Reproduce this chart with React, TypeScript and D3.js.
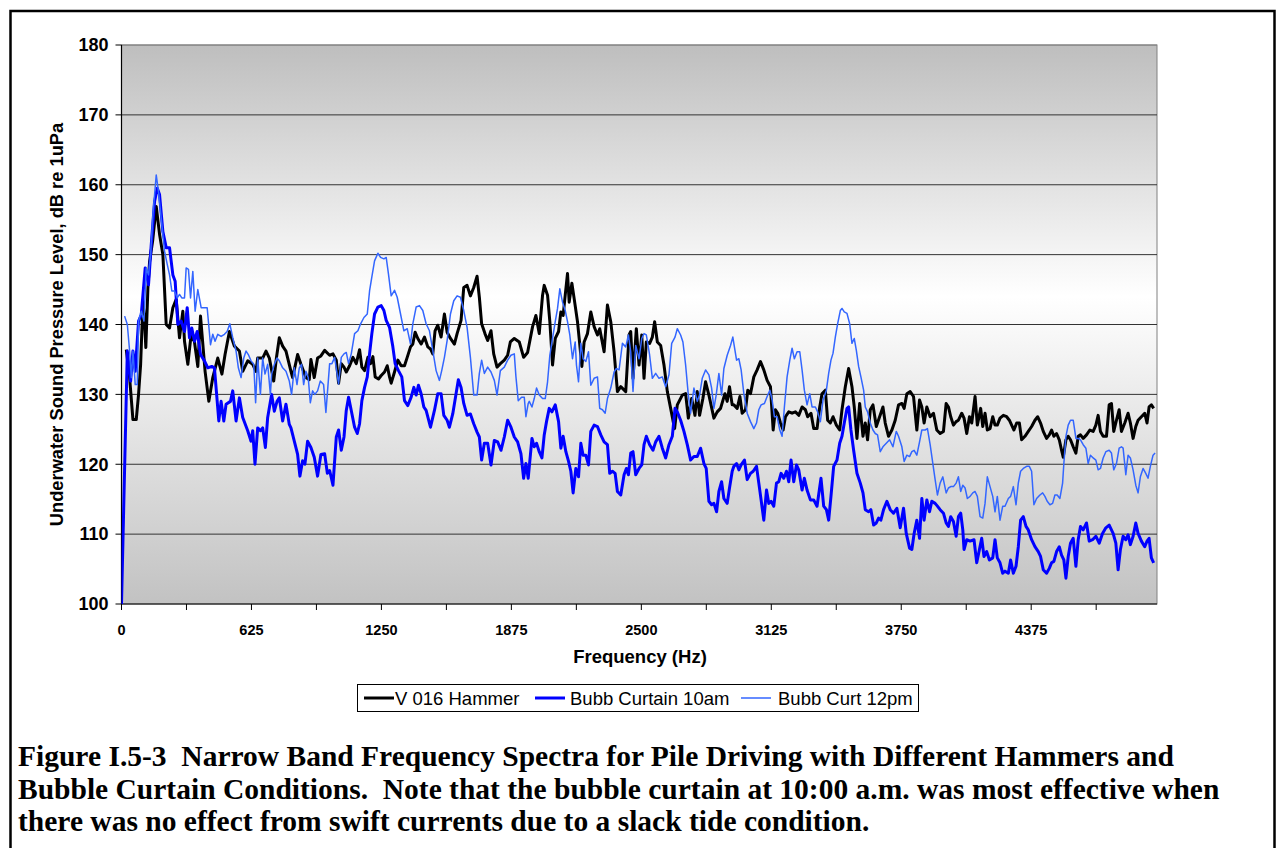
import * as d3 from "d3";

// Narrow band spectra, [frequency Hz, level dB re 1uPa]
const hammerData: [number, number][] = [
  [23,136.4],[39,132.4],[55,126.4],[71,126.4],[82,130],[92,134.3],[103,143.3],[110,141],[117,136.7],[127,145.2],[135,149],[150,152],[167,156.9],[183,152.9],[199,150],[215,140],[231,139.5],[247,142.4],[263,143.6],[279,138.1],[295,141.9],[303,137.6],[319,134.3],[335,138.6],[351,137.5],[367,134],[380,141.2],[402,133.3],[420,129],[439,132.4],[463,135.2],[483,132.9],[498,135.7],[519,139],[543,136.9],[567,136.2],[583,133.3],[607,134.8],[631,134.3],[647,133.3],[655,135.2],[679,135.2],[695,136.2],[711,135.2],[732,131.9],[745,135.2],[759,138.1],[775,136.9],[791,136.2],[815,133.3],[823,132.4],[847,135.7],[863,134.3],[887,132.4],[903,132.1],[911,135],[927,132.4],[943,135.2],[959,135.5],
  [977,136.3],[1001,135.6],[1017,135.8],[1033,134.9],[1044,131.6],[1057,134.4],[1070,133.9],[1081,133.2],[1097,134.1],[1113,135.3],[1129,134.4],[1145,136.4],[1156,133.9],[1169,133.4],[1185,135.3],[1198,134.4],[1209,135.4],[1220,132.5],[1236,132.2],[1249,132.7],[1265,133.2],[1278,134.1],[1289,132.5],[1297,131.6],[1313,133.2],[1329,134.9],[1345,134.1],[1361,134.1],[1374,135.3],[1390,136.8],[1401,137.2],[1412,138.9],[1425,138],[1441,137.2],[1457,138.2],[1473,136.8],[1486,136.5],[1497,135.8],[1508,139.1],[1521,139.9],[1537,138.2],[1553,141.5],[1566,138.9],[1582,138],[1601,137.2],[1614,138.7],[1633,140.6],[1646,145.3],[1662,145.6],[1678,144.1],[1694,145.3],[1710,146.9],[1721,143.9],[1732,140.1],[1748,138.7],[1761,137.7],[1777,139.1],[1790,135.8],[1806,133.9],[1822,134.4],[1841,134.9],[1857,135.6],[1870,137.5],[1889,138],[1913,137.5],[1934,135.3],[1953,136],
  [1977,139.7],[1993,141.3],[2009,138.7],[2025,144.2],[2033,145.6],[2049,144.2],[2060,140.4],[2073,134.2],[2086,138],[2102,139],[2113,141.8],[2124,141.3],[2134,144.2],[2145,147.3],[2153,143.2],[2166,145.9],[2177,143.7],[2193,140.4],[2201,138],[2214,134],[2225,137.5],[2241,138.7],[2257,141.8],[2273,139.7],[2289,138.5],[2300,139.4],[2321,136.1],[2337,142.8],[2353,140.4],[2369,136.1],[2385,130.4],[2401,131.1],[2425,130.4],[2441,138.5],[2449,139],[2460,132.3],[2476,139.4],[2489,134.2],[2502,138.5],[2513,132.3],[2524,137.5],[2540,137.3],[2553,138.2],[2564,140.4],[2577,137.5],[2593,137],[2609,134.2],[2625,130.4],[2641,128],[2660,125.1],[2673,128.5],[2697,129.9],[2713,130.1],[2726,126.6],[2742,129.4],[2758,127],[2769,130.4],[2780,127],[2796,129.4],[2809,131.8],[2825,129.9],[2849,126.6],[2865,127.5],[2881,128],[2902,130.1],[2913,129],[2924,131.1],[2937,128.5],
  [2945,128.5],[2961,128],[2974,129.7],[2985,127.3],[3001,127.8],[3012,130.6],[3025,130.1],[3041,132.5],[3057,133.5],[3073,134.7],[3089,133.5],[3105,132],[3121,131.1],[3134,124.9],[3145,127.8],[3156,127.3],[3169,125.9],[3182,124.9],[3193,126.8],[3209,127.5],[3225,127.3],[3241,127.5],[3257,127],[3273,128.2],[3289,127.8],[3300,126.8],[3316,127.3],[3329,125.1],[3345,125.1],[3358,128.2],[3369,130.1],[3385,130.6],[3396,126.3],[3409,125.9],[3422,126.8],[3438,125.6],[3454,124.9],[3465,127.8],[3481,131.1],[3497,133.7],[3513,131.1],[3524,128.2],[3537,123.7],[3550,128.7],[3566,124],[3577,125.9],[3588,123.5],[3601,127.8],[3614,128.5],[3630,125.4],[3646,126.8],[3662,128.2],[3673,125.9],[3689,124],[3705,124.9],[3721,126.3],[3737,128.5],[3753,128.7],[3764,128],[3777,130.1],[3793,130.4],[3809,129.7],[3825,124.9],[3838,129.2],[3849,128.2],[3860,125.9],[3873,128.2],[3889,126.8],[3905,127.3],[3921,124.9],[3937,124.4],
  [3953,124.7],[3966,128.7],[3977,128.2],[3988,126.8],[4001,125.6],[4014,126.1],[4025,126.3],[4041,127.3],[4052,126.6],[4065,124.4],[4078,126.8],[4089,125.9],[4105,129.7],[4116,125.6],[4132,128],[4142,125.4],[4153,127.3],[4164,124.9],[4177,125.1],[4190,126.8],[4201,125.6],[4212,125.6],[4225,126.6],[4241,127],[4257,126.8],[4270,126.3],[4281,125.6],[4292,124.9],[4305,125.9],[4318,125.9],[4329,123.5],[4345,124],[4361,124.7],[4377,125.4],[4393,126.3],[4406,126.8],[4420,125.9],[4433,124.7],[4449,123.7],[4462,124.2],[4473,124.9],[4484,124],[4497,124.4],[4510,123.5],[4521,122],[4529,121],[4542,123.5],[4553,124],[4564,123.5],[4577,122.5],[4590,121.6],[4601,124],[4612,124.2],[4625,123.7],[4641,124.2],[4657,124.9],[4673,124.7],[4686,125.6],[4697,127],[4708,124.7],[4721,124],[4737,124],[4750,128.5],[4761,128.7],[4772,124.7],[4785,126.3],[4798,127.8],[4809,124.7],[4825,125.9],[4841,127.3],[4852,125.9],[4865,123.7],[4878,125.4],[4889,126.3],[4905,126.8],[4921,127.3],[4932,125.9],[4942,128.2],[4953,128.5],[4964,128],
];

const curtain10Data: [number, number][] = [
  [0,100],[28,136.2],[44,131.9],[55,136.2],[66,133.3],[82,140.5],[95,141.4],[114,148.1],[130,145.7],[143,151.4],[159,157.6],[172,159.5],[183,158.6],[199,153.3],[215,151],[231,151],[247,147.1],[258,146.2],[271,140],[287,140.5],[303,139],[316,142.4],[327,138.1],[338,139.5],[351,137.6],[364,139],[380,135.7],[399,134.8],[415,133.8],[434,134],[447,133.8],[468,126.2],[479,129],[492,126.2],[503,128.6],[524,129],[535,130.5],[551,126.2],[567,129.5],[583,126.7],[607,124.8],[623,123.3],[631,124.8],[642,120],[655,125.2],[668,124.8],[679,125.2],[692,122.4],[703,126.7],[722,130],[735,127.6],[748,129],[759,129.5],[775,126.2],[791,128.6],[807,125.7],[815,125.2],[831,123.3],[847,121.4],[858,118.3],[871,120.5],[882,120],[895,123.3],[911,122.4],[927,121],[943,118.3],[959,121.4],
  [977,121.5],[990,118.7],[1001,119.1],[1017,117],[1033,123.9],[1044,124.9],[1057,122],[1070,123.9],[1081,127.7],[1092,129.6],[1105,127.7],[1121,125.3],[1134,124.4],[1145,125.8],[1156,129.1],[1169,131],[1182,132.5],[1193,135.8],[1204,138.7],[1217,141.5],[1233,142.5],[1249,142.7],[1262,142],[1273,140.6],[1289,139.6],[1305,136.8],[1316,134.4],[1332,133.4],[1348,132.5],[1361,129.1],[1377,128.4],[1393,129.6],[1406,131],[1417,129.9],[1428,131.3],[1441,130.1],[1454,128.2],[1465,127.7],[1486,125.3],[1505,127.7],[1521,130.1],[1537,130.1],[1550,127],[1566,126.3],[1577,125.3],[1593,127.2],[1609,130.1],[1620,132.1],[1633,131],[1646,128.7],[1662,127],[1678,127.2],[1694,125.8],[1710,124.6],[1721,123.9],[1732,120.6],[1745,123],[1761,123],[1777,119.9],[1793,123.4],[1809,123.2],[1825,122],[1841,123.9],[1857,126.3],[1873,125.3],[1889,123.9],[1905,123.2],[1921,121.5],[1934,118],[1945,120.1],[1956,118],
  [1974,123.7],[1985,122.5],[1996,123],[2009,121.8],[2022,120.9],[2033,124.2],[2044,126.1],[2057,128],[2070,127.5],[2086,128.5],[2102,126.1],[2113,122.3],[2124,124],[2137,121.8],[2150,120.4],[2161,119],[2172,115.9],[2185,119.4],[2198,118.2],[2209,123],[2220,121.3],[2233,121.3],[2246,119.9],[2257,124.7],[2273,125.6],[2289,125.4],[2305,124.2],[2321,123.2],[2337,122.8],[2348,118.7],[2361,119],[2374,118.7],[2385,116.1],[2401,115.6],[2417,118.5],[2428,119.4],[2438,118.5],[2449,121.6],[2460,121.8],[2473,118.5],[2489,119.4],[2502,119.9],[2513,122.8],[2524,124],[2540,122.8],[2556,122],[2569,123.2],[2585,124],[2601,122.3],[2617,120.9],[2633,122.8],[2649,124],[2662,128],[2673,127.5],[2689,126.3],[2705,124.7],[2721,122.8],[2737,120.6],[2753,121.1],[2769,121.1],[2785,122.3],[2801,120.1],[2812,119.4],[2825,114.7],[2838,114.2],[2849,114.4],[2862,113.2],[2873,116.1],[2886,117.5],[2897,115.1],[2913,114.4],[2924,116.6],[2937,119],
  [2945,119.7],[2958,120.1],[2969,119.2],[2980,119.9],[2996,120.6],[3009,117.8],[3025,118.7],[3038,119],[3054,119.7],[3065,117.3],[3076,114.9],[3089,112],[3102,116.3],[3113,114.4],[3124,114.7],[3137,114],[3150,117.3],[3161,117.5],[3172,118.7],[3185,118],[3198,119],[3209,117.5],[3220,120.6],[3233,117.5],[3246,119.9],[3257,119.2],[3273,116.3],[3284,118],[3297,116.3],[3313,114.9],[3329,114.9],[3345,114],[3364,118],[3377,114],[3390,113.5],[3401,112],[3412,115.4],[3425,119.7],[3441,120.6],[3454,123],[3465,124],[3476,125.9],[3489,128],[3497,128.2],[3508,124.9],[3521,122],[3537,118.7],[3553,117.3],[3566,115.9],[3577,113.5],[3593,113.2],[3604,113.5],[3617,111.3],[3630,111.6],[3641,112.3],[3652,112],[3665,113.5],[3681,114.7],[3697,113.5],[3713,113],[3729,113.7],[3745,110.9],[3761,113.7],[3774,110.1],[3790,108],[3801,107.8],[3812,110.1],[3825,112],[3838,109.4],[3849,115.1],[3860,112],[3873,114.9],[3886,113.2],[3897,114.7],[3913,114.4],[3924,114],[3937,113.5],
  [3953,113],[3966,111.6],[3977,111.1],[3988,112.5],[4001,111.8],[4014,109.7],[4025,112.5],[4036,113],[4046,110.6],[4052,107.8],[4065,109.2],[4081,109],[4100,109.2],[4113,105.9],[4126,107.8],[4137,109.4],[4148,106.8],[4161,107.5],[4174,106.3],[4190,106.6],[4201,109.2],[4212,106.6],[4225,105.9],[4238,104.4],[4249,104.7],[4265,104.4],[4276,106.3],[4289,104.4],[4302,105.4],[4313,108.2],[4324,112],[4337,112.5],[4350,111.1],[4361,110.6],[4377,109.2],[4393,108.2],[4409,107.5],[4420,106.8],[4433,104.9],[4449,104.4],[4462,105.1],[4473,105.9],[4484,106.1],[4497,107.5],[4510,108.2],[4521,107],[4532,106.3],[4542,103.7],[4553,106.8],[4564,108.7],[4577,109.4],[4590,105.4],[4601,109.2],[4612,111.1],[4625,110.6],[4641,111.6],[4654,109],[4670,109.2],[4686,109.7],[4702,108.7],[4718,110.1],[4734,110.9],[4750,111.3],[4769,110.1],[4782,108.7],[4793,104.9],[4804,107.8],[4817,109.7],[4830,109.2],[4841,109.9],[4852,108.5],[4865,109.7],[4878,111.6],[4889,110.1],[4905,109],[4921,108.2],[4932,109],[4942,109.4],[4953,106.6],[4964,105.9],
];

const curtain12Data: [number, number][] = [
  [15,141.2],[28,140],[39,136.2],[47,132.4],[55,136.2],[66,131.4],[76,131.4],[82,140.5],[95,141.9],[108,140.5],[119,148.1],[130,147.1],[140,150],[151,155.7],[167,161.4],[178,159],[191,155.2],[207,150.5],[220,148.6],[231,147.1],[242,144.8],[255,144.8],[268,143.8],[279,144.3],[290,143.8],[303,143.8],[311,148.1],[322,147.9],[332,143.8],[343,147.6],[354,141.9],[367,145],[383,142.4],[399,142.4],[412,142.4],[428,137.1],[439,138.6],[450,137.6],[463,138.6],[479,138.3],[495,138.6],[508,139],[521,140.1],[535,138.1],[551,136.2],[562,133.8],[575,132.4],[588,135.2],[599,136.2],[610,135.7],[623,134.8],[636,134.3],[645,128.8],[655,135.2],[668,130],[679,135.2],[690,132.9],[703,134.3],[716,130],[722,132.9],[735,134.3],[748,135.2],[759,134.8],[775,133.8],[791,133.3],[807,131.9],[818,130],[831,133.8],[844,131.4],[855,133.8],[866,134.3],[876,131.4],[887,133.3],[898,132.4],[908,128.8],[919,130.5],[930,130],[943,130.5],[956,131.9],[972,131.4],[983,127.4],
  [990,130.1],[1001,134.4],[1012,134.4],[1025,135.3],[1044,131.5],[1057,135.3],[1070,135.8],[1081,136],[1092,134.4],[1105,135.8],[1121,138.7],[1137,139.1],[1150,140.1],[1166,141],[1182,141.5],[1193,144.8],[1204,146.8],[1217,149.1],[1233,150.2],[1246,149.6],[1262,149.4],[1273,149.6],[1284,147.2],[1297,144.1],[1313,144.9],[1326,143.9],[1342,141.5],[1358,139.1],[1374,139.4],[1390,137.2],[1401,140.1],[1417,142.5],[1433,142.7],[1449,142],[1465,140.1],[1481,139.1],[1497,136.3],[1513,133.4],[1529,132],[1540,133.4],[1553,135.3],[1566,137.7],[1582,141.5],[1598,143.4],[1614,144.1],[1630,143.9],[1646,142],[1662,139.6],[1678,135.3],[1694,129.9],[1710,129.9],[1721,133],[1732,134.9],[1745,133],[1761,133.9],[1777,133.2],[1793,132],[1806,129.9],[1822,133.4],[1841,133.9],[1857,134.9],[1873,135.6],[1889,135.8],[1897,132.5],[1908,129.1],[1924,129.6],[1937,129.6],[1945,126.8],[1956,128.7],
  [1961,129],[1974,128.2],[1985,129.4],[1996,130.9],[2009,129.9],[2025,129.4],[2038,129.4],[2049,131.8],[2060,135.6],[2073,138],[2086,140.4],[2097,142.3],[2108,145.1],[2121,143.2],[2134,142],[2145,140.4],[2156,138.5],[2169,135.1],[2182,137.5],[2188,134.2],[2198,131.8],[2209,137.3],[2220,135.1],[2233,134.7],[2246,136.1],[2257,131.3],[2273,132.3],[2289,132.5],[2300,128],[2313,127.8],[2326,127.3],[2337,129.4],[2353,130.9],[2369,133.2],[2380,133.7],[2393,133.5],[2409,137.3],[2425,136.8],[2438,138.5],[2449,136.1],[2460,130.4],[2473,137],[2489,135.1],[2502,138],[2513,138.7],[2524,138.5],[2540,135.6],[2553,132.3],[2569,133],[2585,132.3],[2601,132.5],[2617,131.1],[2633,132.8],[2646,137.3],[2662,138.2],[2673,139.4],[2689,138.5],[2700,137.5],[2713,134.2],[2726,129.9],[2737,127.3],[2753,130.9],[2769,129],[2780,129.9],[2793,132.3],[2809,133.5],[2825,132.8],[2838,130.9],[2849,128],[2860,129.9],[2873,133],[2886,129.9],[2897,133.7],[2913,135.6],[2929,137],[2940,138.2],
  [2958,134.9],[2969,135.1],[2980,133.5],[2993,130.1],[3009,127.3],[3025,126.1],[3041,125.1],[3054,125.9],[3065,127.8],[3076,128.5],[3092,128.7],[3105,129.7],[3118,130.6],[3129,129.2],[3140,126.8],[3153,126.8],[3166,124.9],[3177,124],[3188,128.2],[3201,132.5],[3214,134.9],[3225,136.6],[3236,135.1],[3249,136.1],[3262,136.1],[3273,133.5],[3284,130.6],[3297,128.5],[3310,130.1],[3321,128.2],[3337,128.2],[3348,127.5],[3361,126.1],[3374,129.2],[3390,130.6],[3401,133],[3412,134.9],[3422,135.9],[3433,138.2],[3444,140.1],[3457,142],[3465,142.3],[3476,141.8],[3489,141.6],[3502,140.1],[3513,137.3],[3524,138],[3534,136.3],[3545,134],[3556,132.5],[3569,130.6],[3577,128.2],[3588,127.5],[3601,125.9],[3614,124.9],[3625,124.4],[3636,124.2],[3649,121.8],[3662,122.5],[3678,123],[3694,123.5],[3710,122.5],[3726,124.7],[3737,124],[3753,122.5],[3764,120.4],[3777,121.3],[3790,121.1],[3801,121.8],[3812,122],[3825,121.3],[3838,123.2],[3849,124.9],[3865,124.9],[3876,125.1],[3889,122.8],[3902,120.1],[3913,117.8],[3924,115.6],[3937,117.3],[3950,118.2],
  [3966,115.9],[3977,116.6],[3988,116.8],[4001,116.8],[4014,117.3],[4025,118.2],[4036,116.1],[4046,117],[4057,116.6],[4068,115.1],[4081,115.4],[4094,115.9],[4105,116.1],[4116,115.4],[4129,112.5],[4142,112.3],[4153,114.4],[4164,118.2],[4177,116.8],[4190,115.4],[4201,113.2],[4212,115.4],[4225,112],[4238,114],[4249,114],[4265,115.1],[4276,115.4],[4289,116.8],[4302,114.2],[4313,117.3],[4324,119],[4337,119.4],[4353,119.7],[4366,119.7],[4377,119],[4388,114.2],[4401,115.1],[4417,115.6],[4430,115.9],[4441,115.4],[4452,114.7],[4465,114.2],[4478,114.4],[4489,115.6],[4500,115.6],[4513,115.1],[4526,117.3],[4532,120.1],[4542,124],[4553,125.6],[4564,126.3],[4577,126.3],[4590,123.7],[4601,123.7],[4612,123.5],[4625,122.8],[4638,122.3],[4649,120.1],[4660,121.3],[4673,120.9],[4686,120.6],[4697,119.2],[4708,119.4],[4721,120.9],[4734,121.8],[4750,122],[4761,121.6],[4772,119.2],[4785,120.1],[4798,122.3],[4809,122.5],[4817,122.3],[4830,118.5],[4841,121.3],[4852,120.9],[4865,119.2],[4878,117],[4889,115.9],[4900,118.2],[4913,119.4],[4926,118.7],[4937,118],[4948,119.7],[4961,121.3],[4971,121.6],
];

const yTicks = [100, 110, 120, 130, 140, 150, 160, 170, 180];
const xLabels = [0, 625, 1250, 1875, 2500, 3125, 3750, 4375];
const xMinorStep = 312.5;

const seriesNames = ["V 016 Hammer", "Bubb Curtain 10am", "Bubb Curt 12pm"];
const seriesColors = ["#000000", "#0000ff", "#3366ff"];
const seriesWidths = [3, 3, 1.5];

const captionLines = [
  "Figure I.5-3  Narrow Band Frequency Spectra for Pile Driving with Different Hammers and",
  "Bubble Curtain Conditions.  Note that the bubble curtain at 10:00 a.m. was most effective when",
  "there was no effect from swift currents due to a slack tide condition.",
];

const W = 1277;
const H = 848;
const plot = { left: 121.5, right: 1157, top: 45, bottom: 604 };
const sans = "'Liberation Sans', Arial, sans-serif";

export default function App() {
  const x = d3.scaleLinear([0, 4980], [plot.left, plot.right]);
  const y = d3.scaleLinear([100, 180], [plot.bottom, plot.top]);
  const line = d3
    .line<[number, number]>()
    .x((d) => x(d[0]))
    .y((d) => y(d[1]));

  const allSeries = [hammerData, curtain10Data, curtain12Data];
  const minorTicks = d3.range(0, 4980, xMinorStep);

  // legend layout
  const legend = { x: 357.5, y: 684.5, w: 561, h: 27 };
  const legendItems = [
    { lx: 364, tx: 395 },
    { lx: 535, tx: 570 },
    { lx: 741, tx: 778 },
  ];

  return (
    <svg
      width={W}
      height={H}
      style={{ position: "absolute", left: 0, top: 0, background: "white" }}
    >
      <defs>
        <linearGradient id="plotBg" x1="0" y1="0" x2="0" y2="1">
          <stop offset="0%" stopColor="#bebebe" />
          <stop offset="45%" stopColor="#ffffff" />
          <stop offset="100%" stopColor="#c2c2c2" />
        </linearGradient>
        <clipPath id="plotClip">
          <rect
            x={plot.left}
            y={plot.top}
            width={plot.right - plot.left}
            height={plot.bottom - plot.top}
          />
        </clipPath>
      </defs>

      {/* outer frame */}
      <rect x={10.5} y={11} width={1264} height={900} fill="none" stroke="#000" strokeWidth={2.5} />

      {/* plot background */}
      <rect
        x={plot.left}
        y={plot.top}
        width={plot.right - plot.left}
        height={plot.bottom - plot.top}
        fill="url(#plotBg)"
        stroke="#808080"
        strokeWidth={1}
      />

      {/* gridlines */}
      {yTicks.map((t) =>
        t === 100 ? null : (
          <line
            key={`g${t}`}
            x1={plot.left}
            x2={plot.right}
            y1={y(t)}
            y2={y(t)}
            stroke={t === 180 ? "#808080" : "#333"}
            strokeWidth={1}
          />
        )
      )}

      {/* y axis */}
      <line x1={plot.left} x2={plot.left} y1={plot.top} y2={plot.bottom} stroke="#000" strokeWidth={1.2} />
      {yTicks.map((t) => (
        <g key={`y${t}`}>
          <line x1={plot.left - 6} x2={plot.left} y1={y(t)} y2={y(t)} stroke="#000" />
          <text
            x={plot.left - 13}
            y={y(t)}
            dy="0.35em"
            textAnchor="end"
            fontFamily={sans}
            fontWeight="bold"
            fontSize={18}
          >
            {t}
          </text>
        </g>
      ))}

      {/* x axis */}
      <line x1={plot.left} x2={plot.right} y1={plot.bottom} y2={plot.bottom} stroke="#000" strokeWidth={1.2} />
      {minorTicks.map((t) => (
        <line key={`xt${t}`} x1={x(t)} x2={x(t)} y1={plot.bottom} y2={plot.bottom + 6} stroke="#000" />
      ))}
      {xLabels.map((t) => (
        <text
          key={`xl${t}`}
          x={x(t)}
          y={plot.bottom + 31}
          textAnchor="middle"
          fontFamily={sans}
          fontWeight="bold"
          fontSize={14.5}
        >
          {t}
        </text>
      ))}

      {/* axis titles */}
      <text
        x={640}
        y={663}
        textAnchor="middle"
        fontFamily={sans}
        fontWeight="bold"
        fontSize={18.5}
      >
        Frequency (Hz)
      </text>
      <text
        transform={`translate(63,${(plot.top + plot.bottom) / 2}) rotate(-90)`}
        textAnchor="middle"
        fontFamily={sans}
        fontWeight="bold"
        fontSize={18.3}
      >
        Underwater Sound Pressure Level, dB re 1uPa
      </text>

      {/* series */}
      <g clipPath="url(#plotClip)">
        {allSeries.map((s, i) => (
          <path
            key={seriesNames[i]}
            d={line(s) ?? ""}
            fill="none"
            stroke={seriesColors[i]}
            strokeWidth={seriesWidths[i]}
            strokeLinejoin="round"
          />
        ))}
      </g>

      {/* legend */}
      <rect x={legend.x} y={legend.y} width={legend.w} height={legend.h} fill="#fff" stroke="#000" strokeWidth={1} />
      {legendItems.map((it, i) => (
        <g key={`lg${i}`}>
          <line
            x1={it.lx}
            x2={it.lx + 30}
            y1={legend.y + legend.h / 2}
            y2={legend.y + legend.h / 2}
            stroke={seriesColors[i]}
            strokeWidth={seriesWidths[i]}
          />
          <text
            x={it.tx}
            y={legend.y + legend.h / 2}
            dy="0.36em"
            fontFamily={sans}
            fontSize={18.5}
          >
            {seriesNames[i]}
          </text>
        </g>
      ))}

      {/* caption */}
      {captionLines.map((c, i) => (
        <text
          key={`c${i}`}
          x={18}
          y={766 + i * 32.5}
          fontFamily="'Liberation Serif', 'Times New Roman', serif"
          fontWeight="bold"
          fontSize={29.5}
          style={{ whiteSpace: "pre" }}
        >
          {c}
        </text>
      ))}
    </svg>
  );
}
